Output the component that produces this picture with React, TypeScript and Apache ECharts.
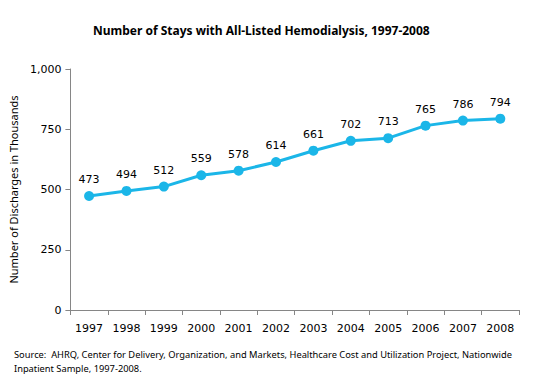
import React, { useEffect, useRef } from "react";
import * as echarts from "echarts";

const years = ["1997", "1998", "1999", "2000", "2001", "2002", "2003", "2004", "2005", "2006", "2007", "2008"];
const discharges = [473, 494, 512, 559, 578, 614, 661, 702, 713, 765, 786, 794];
const yTicks = [0, 250, 500, 750, 1000];

export default function App() {
  const ref = useRef<HTMLDivElement>(null);
  useEffect(() => {
    const chart = echarts.init(ref.current!, undefined, { renderer: "svg" });
    chart.setOption({
      animation: false,
      backgroundColor: "#ffffff",
      title: {
        text: "Number of Stays with All-Listed Hemodialysis, 1997-2008",
        left: 88,
        top: 19,
        textStyle: { fontFamily: "Noto Sans", fontSize: 12, fontWeight: "bold", color: "#000" },
      },
      grid: { left: 64, right: 15, top: 69, bottom: 71 },
      xAxis: {
        type: "category",
        data: years,
        boundaryGap: true,
        axisLine: { lineStyle: { color: "#868686", width: 1 } },
        axisTick: { show: true, interval: 0, length: 5, lineStyle: { color: "#868686" } },
        axisLabel: { interval: 0, fontFamily: "DejaVu Sans", fontSize: 11, color: "#000", margin: 13 },
      },
      yAxis: {
        type: "value",
        min: 0,
        max: yTicks[yTicks.length - 1],
        interval: 250,
        name: "Number of Discharges in Thousands",
        nameLocation: "middle",
        nameGap: 44,
        nameTextStyle: { fontFamily: "Noto Sans", fontSize: 11, color: "#000" },
        axisLine: { show: true, lineStyle: { color: "#868686", width: 1 } },
        axisTick: { show: true, length: 5, lineStyle: { color: "#868686" } },
        splitLine: { show: false },
        axisLabel: {
          fontFamily: "DejaVu Sans",
          fontSize: 11,
          color: "#000",
          margin: 9,
          formatter: (v: number) => v.toLocaleString("en-US"),
        },
      },
      series: [
        {
          type: "line",
          data: discharges,
          symbol: "circle",
          symbolSize: 10,
          itemStyle: { color: "#1BB6E8" },
          lineStyle: { color: "#1BB6E8", width: 3 },
          label: {
            show: true,
            position: "top",
            distance: 6,
            fontFamily: "DejaVu Sans",
            fontSize: 11,
            color: "#000",
          },
        },
      ],
      graphic: [
        {
          type: "text",
          left: 14,
          top: 347,
          style: {
            text: "Source:  AHRQ, Center for Delivery, Organization, and Markets, Healthcare Cost and Utilization Project, Nationwide\nInpatient Sample, 1997-2008.",
            fontFamily: "Noto Sans",
            fontSize: 9.3,
            lineHeight: 14,
            fill: "#000",
          },
        },
      ],
    });
    return () => chart.dispose();
  }, []);
  return <div ref={ref} style={{ width: 534, height: 381, position: "absolute", left: 0, top: 0 }} />;
}
